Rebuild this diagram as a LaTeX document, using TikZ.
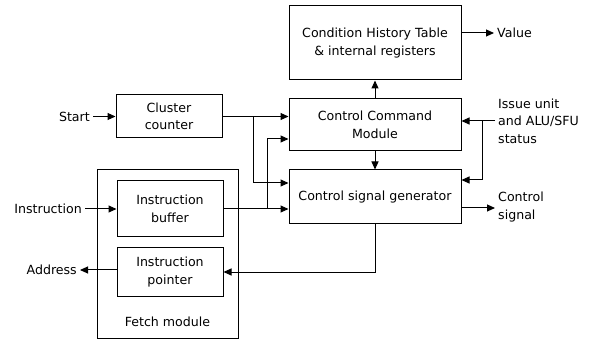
\documentclass[tikz,border=0pt]{standalone}
\usepackage{fontspec}
\setmainfont{DejaVu Sans}
\usetikzlibrary{arrows.meta}
\begin{document}
\begin{tikzpicture}[x=1pt,y=-1pt,
  every node/.style={font=\fontsize{12.6}{17.5}\selectfont, align=center, inner sep=0pt},
  blk/.style={draw, line width=1pt},
  lbl/.style={inner sep=3pt},
  arr/.style={line width=1pt, -{Triangle[length=8pt,width=7pt]}},
  ln/.style={line width=1pt}]
\useasboundingbox (0,0) rectangle (596,344);
% boxes
\node[blk, minimum width=172pt, minimum height=74pt] (cht) at (375,43) {Condition History Table\\\& internal registers};
\node[blk, minimum width=172pt, minimum height=52pt] (ccm) at (375,125) {Control Command\\Module};
\node[blk, minimum width=172pt, minimum height=54pt] (csg) at (375,197) {Control signal generator};
\node[blk, minimum width=106pt, minimum height=43pt] (cc) at (169,116.5) {Cluster\\counter};
\node[blk, minimum width=141pt, minimum height=168pt] (fetch) at (167.5,254) {};
\node (fetchlbl) at (167.5,322) {Fetch module};
\node[blk, minimum width=106pt, minimum height=56pt] (ib) at (170,209) {Instruction\\buffer};
\node[blk, minimum width=106pt, minimum height=48pt] (ip) at (170,272) {Instruction\\pointer};
% labels
\node[lbl, anchor=east] (start) at (93,116.5) {Start};
\node[lbl, anchor=east] (instr) at (85,209) {Instruction};
\node[lbl, anchor=east] (addr) at (80,270) {Address};
\node[lbl, anchor=west] (value) at (494,33) {Value};
\node[lbl, anchor=west, align=left] (issue) at (495,121) {Issue unit\\and ALU/SFU\\status};
\node[lbl, anchor=west, align=left] (ctrl) at (495,207) {Control\\signal};
% connectors
\draw[arr] (start.east) -- (cc.west);
\draw[arr] (cc.east) -- (cc.east -| ccm.west);
\coordinate (j1) at (253,116.5);
\draw[arr] (j1) |- ([yshift=14pt]csg.west);
\draw[arr] (instr.east) -- (ib.west);
\draw[arr] (ib.east) -- (ib.east -| csg.west);
\coordinate (j2) at (267,209);
\draw[arr] (j2) |- ([yshift=-14pt]ccm.west);
\draw[arr] (ccm.north) -- (cht.south);
\draw[arr] (ccm.south) -- (csg.north);
\draw[arr] ([yshift=10pt]cht.east) -- ([yshift=10pt]cht.east -| value.west);
\draw[arr] (issue.west) -- (issue.west -| ccm.east);
\coordinate (j3) at (482,121);
\draw[arr] (j3) |- ([yshift=17pt]csg.east);
\draw[arr] ([yshift=-11pt]csg.east) -- ([yshift=-11pt]csg.east -| ctrl.west);
\draw[arr] (csg.south) |- (ip.east);
\draw[arr] ([yshift=2pt]ip.west) -- ([yshift=2pt]ip.west -| addr.east);
\end{tikzpicture}
\end{document}
